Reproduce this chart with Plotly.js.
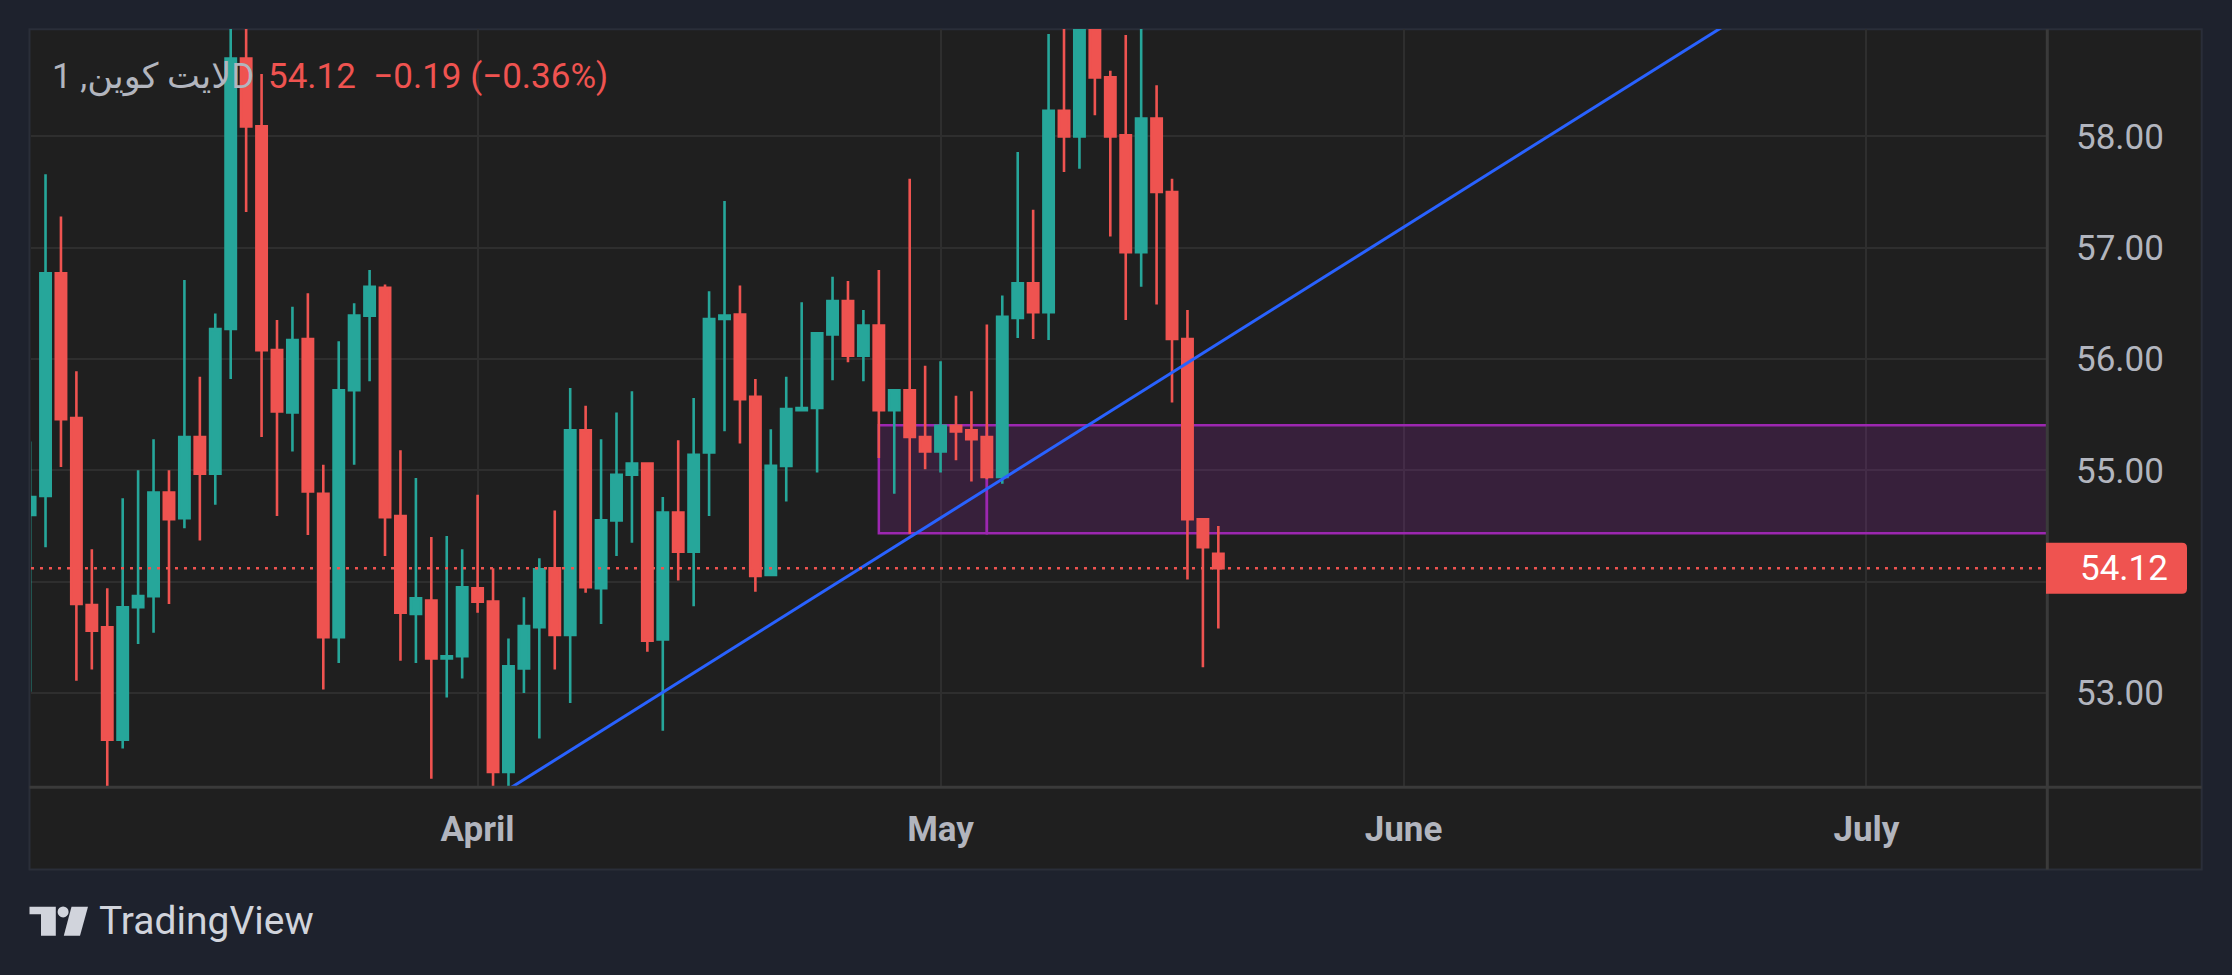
<!DOCTYPE html>
<html>
<head>
<meta charset="utf-8">
<script src="https://cdn.plot.ly/plotly-3.0.1.min.js"></script>
<style>
html,body{margin:0;padding:0;background:#1e222d;overflow:hidden}
#chart{width:2232px;height:975px}
</style>
</head>
<body>
<div id="chart"></div>
<script>
// ---- data (daily candles) ----
const dates = [
 '2024-03-03','2024-03-04','2024-03-05','2024-03-06','2024-03-07','2024-03-08','2024-03-09','2024-03-10',
 '2024-03-11','2024-03-12','2024-03-13','2024-03-14','2024-03-15','2024-03-16','2024-03-17','2024-03-18',
 '2024-03-19','2024-03-20','2024-03-21','2024-03-22','2024-03-23','2024-03-24','2024-03-25','2024-03-26',
 '2024-03-27','2024-03-28','2024-03-29','2024-03-30','2024-03-31','2024-04-01','2024-04-02','2024-04-03',
 '2024-04-04','2024-04-05','2024-04-06','2024-04-07','2024-04-08','2024-04-09','2024-04-10','2024-04-11',
 '2024-04-12','2024-04-13','2024-04-14','2024-04-15','2024-04-16','2024-04-17','2024-04-18','2024-04-19',
 '2024-04-20','2024-04-21','2024-04-22','2024-04-23','2024-04-24','2024-04-25','2024-04-26','2024-04-27',
 '2024-04-28','2024-04-29','2024-04-30','2024-05-01','2024-05-02','2024-05-03','2024-05-04','2024-05-05',
 '2024-05-06','2024-05-07','2024-05-08','2024-05-09','2024-05-10','2024-05-11','2024-05-12','2024-05-13',
 '2024-05-14','2024-05-15','2024-05-16','2024-05-17','2024-05-18','2024-05-19'
];
const opens = [
 54.60,54.77,56.77,55.47,53.79,53.59,52.58,53.77,53.87,54.80,54.57,55.30,54.97,56.27,58.70,58.09,
 56.08,55.52,56.18,54.79,53.50,55.72,56.39,56.64,54.59,53.71,53.83,53.31,53.33,53.94,53.82,52.29,
 53.22,53.59,54.12,53.52,55.36,53.94,54.55,54.96,55.06,53.48,54.62,54.27,55.16,56.36,56.40,55.66,
 54.06,55.04,55.54,55.56,56.22,56.52,56.03,56.30,55.54,55.72,55.30,55.17,55.40,55.36,55.30,54.94,
 56.37,56.68,56.42,58.23,58.00,59.25,58.53,58.01,56.96,58.16,57.50,56.18,54.56,54.25
];
const highs = [
 55.26,57.66,57.28,55.89,54.29,53.94,54.75,55.00,55.28,55.00,56.71,55.84,56.41,59.30,59.20,58.56,
 56.35,56.47,56.59,55.05,56.16,56.50,56.80,56.67,55.18,54.93,54.40,54.41,54.29,54.78,54.12,53.49,
 53.86,54.21,54.64,55.74,55.58,55.28,55.52,55.71,55.06,54.76,55.27,55.65,56.61,57.42,56.66,55.82,
 55.37,55.84,56.51,56.24,56.74,56.70,56.44,56.80,55.72,57.62,55.94,55.98,55.67,55.71,56.31,56.57,
 57.86,57.34,58.92,59.10,59.50,59.40,58.59,58.91,59.20,58.46,57.62,56.44,54.56,54.50
];
const lows = [
 53.01,54.31,55.03,53.11,53.21,52.16,52.50,53.44,53.54,53.80,54.48,54.37,54.69,55.82,57.32,55.30,
 54.59,55.17,54.42,53.03,53.27,55.05,55.80,54.23,53.29,53.27,52.23,52.96,53.13,53.72,52.12,52.14,
 53.00,52.59,53.21,52.91,53.90,53.62,54.23,54.35,53.37,52.66,54.01,53.78,54.59,55.35,55.24,53.91,
 54.05,54.72,55.53,54.98,55.81,55.97,55.80,55.11,54.79,54.43,55.01,54.98,55.09,54.90,54.92,54.88,
 56.19,56.18,56.17,57.68,57.71,58.19,57.10,56.35,56.65,56.49,55.61,54.02,53.23,53.58
];
const closes = [
 54.76,56.77,55.46,53.80,53.56,52.58,53.77,53.87,54.80,54.56,55.30,54.97,56.27,58.70,58.09,56.08,
 55.53,56.17,54.81,53.50,55.72,56.39,56.65,54.58,53.72,53.85,53.31,53.33,53.95,53.82,52.29,53.24,
 53.60,54.11,53.52,55.36,53.95,54.55,54.96,55.06,53.47,54.62,54.27,55.14,56.36,56.39,55.64,54.05,
 55.04,55.55,55.56,56.23,56.52,56.03,56.30,55.54,55.72,55.30,55.17,55.40,55.35,55.28,54.94,56.38,
 56.68,56.42,58.23,58.00,59.25,58.53,58.00,56.96,58.16,57.50,56.18,54.56,54.31,54.12
];

// axis ticks / labels
const priceTicks = [53, 54, 55, 56, 57, 58];
const priceTickLabels = ['53.00', '', '55.00', '56.00', '57.00', '58.00'];
const monthTickDates = ['2024-04-01', '2024-05-01', '2024-05-31', '2024-06-30'];
const monthTickLabels = ['April', 'May', 'June', 'July'];

// drawings on the chart
const trendDates = ['2024-04-03', '2024-06-21'];
const trendPrices = [52.135, 59.012];
const zoneStarts = ['2024-04-27', '2024-05-04'];
const zoneEnd = '2024-09-30';
const zoneTop = 55.405;
const zoneBottom = 54.435;

// header texts
const symbolLabel = 'لايت كوين, 1D';
const quoteLabel = '54.12\u00a0\u00a0\u22120.19 (\u22120.36%)';
const brandLabel = 'TradingView';

const lastClose = closes[closes.length - 1];

// ---- layout helpers (page pixels -> paper fractions) ----
const W = 2232, H = 975;
const M = {l: 31, r: 185, t: 29, b: 188};
const PW = W - M.l - M.r, PH = H - M.t - M.b;
const px = x => (x - M.l) / PW;
const py = y => (H - M.b - y) / PH;
const pathOf = pts => pts.map((p, i) => (i ? 'L' : 'M') + px(p[0]) + ',' + py(p[1])).join(' ') + ' Z';

const GREEN = '#26a69a', RED = '#ef5350';
const FONT = 'Roboto, "DejaVu Sans", sans-serif';

const candles = {
  type: 'candlestick',
  x: dates, open: opens, high: highs, low: lows, close: closes,
  increasing: {line: {color: GREEN, width: 2.6}, fillcolor: GREEN},
  decreasing: {line: {color: RED, width: 2.6}, fillcolor: RED},
  whiskerwidth: 0,
  hoverinfo: 'skip',
  showlegend: false
};
const trend = {
  type: 'scatter', mode: 'lines',
  x: trendDates, y: trendPrices,
  line: {color: '#2962ff', width: 3},
  hoverinfo: 'skip', showlegend: false
};

const shapes = [
  // chart block
  {type: 'rect', xref: 'paper', yref: 'paper', layer: 'below',
   x0: px(29.5), x1: px(2201.7), y0: py(869.4), y1: py(29.2),
   fillcolor: '#1f1f1f', line: {color: '#2a2e39', width: 2}},
];
zoneStarts.forEach((s, i) => {
  shapes.push({type: 'rect', xref: 'x', yref: 'y', layer: 'between',
    x0: s, x1: i + 1 < zoneStarts.length ? zoneStarts[i + 1] : zoneEnd,
    y0: zoneBottom, y1: zoneTop,
    fillcolor: 'rgba(156,39,176,0.2)', line: {color: '#9c27b0', width: 2.5}});
});
shapes.push(
  // last price line
  {type: 'line', xref: 'paper', yref: 'y', layer: 'above', x0: 0, x1: 1, y0: lastClose, y1: lastClose,
   line: {color: RED, width: 2.5, dash: '3px,6px'}},
  // separators
  {type: 'line', xref: 'paper', yref: 'paper', layer: 'above',
   x0: px(2047.3), x1: px(2047.3), y0: py(869.4), y1: py(29.2), line: {color: '#3a3a3a', width: 3}},
  {type: 'line', xref: 'paper', yref: 'paper', layer: 'above',
   x0: px(29.5), x1: px(2201.7), y0: py(787.3), y1: py(787.3), line: {color: '#3a3a3a', width: 3}},
  // last price badge
  {type: 'path', xref: 'paper', yref: 'y', layer: 'above',
   xsizemode: 'pixel', xanchor: 1, ysizemode: 'pixel', yanchor: lastClose,
   path: 'M -1,-25.5 L 135,-25.5 Q 140,-25.5 140,-20.5 L 140,20.5 Q 140,25.5 135,25.5 L -1,25.5 Z',
   fillcolor: RED, line: {width: 0}},
  // TradingView logo
  {type: 'path', xref: 'paper', yref: 'paper', layer: 'above',
   path: pathOf([[29.5, 906.7], [55.8, 906.7], [55.8, 935.7], [41, 935.7], [41, 914.2], [29.5, 914.2]]),
   fillcolor: '#d1d4dc', line: {width: 0}},
  {type: 'circle', xref: 'paper', yref: 'paper', layer: 'above',
   x0: px(57.6), x1: px(68.6), y0: py(917.4), y1: py(906.4),
   fillcolor: '#d1d4dc', line: {width: 0}},
  {type: 'path', xref: 'paper', yref: 'paper', layer: 'above',
   path: pathOf([[71.5, 906.7], [88, 906.7], [80, 935.7], [63.8, 935.7]]),
   fillcolor: '#d1d4dc', line: {width: 0}}
);

const annotations = [
  {xref: 'paper', yref: 'paper', x: px(50), y: py(76.7), xanchor: 'left', yanchor: 'middle',
   text: symbolLabel, showarrow: false, font: {family: FONT, size: 35, color: '#b2b5be'}},
  {xref: 'paper', yref: 'paper', x: px(266), y: py(76.7), xanchor: 'left', yanchor: 'middle',
   text: quoteLabel, showarrow: false, font: {family: FONT, size: 35, color: RED}},
  {xref: 'paper', yref: 'y', x: px(2078), y: lastClose, xanchor: 'left', yanchor: 'middle',
   text: lastClose.toFixed(2), showarrow: false, font: {family: FONT, size: 35, color: '#ffffff'}},
  {xref: 'paper', yref: 'paper', x: px(97), y: py(921), xanchor: 'left', yanchor: 'middle',
   text: brandLabel, showarrow: false, font: {family: FONT, size: 39, color: '#d1d4dc'}}
];

const layout = {
  width: W, height: H,
  margin: M,
  paper_bgcolor: '#1e222d',
  plot_bgcolor: '#1f1f1f',
  showlegend: false,
  hovermode: false,
  boxgap: 0.33, boxgroupgap: 0,
  xaxis: {
    type: 'date',
    range: ['2024-03-03 01:24', '2024-07-11 16:48'],
    rangeslider: {visible: false},
    tickmode: 'array', tickvals: monthTickDates, ticktext: monthTickLabels,
    ticks: '', ticklabelstandoff: 18,
    tickfont: {family: FONT, size: 35, color: '#b2b5be', weight: 'bold'},
    showgrid: true, gridcolor: '#2e2e2e', gridwidth: 2,
    zeroline: false, showline: false, fixedrange: true
  },
  yaxis: {
    side: 'right',
    range: [52.155, 58.965],
    tickmode: 'array', tickvals: priceTicks, ticktext: priceTickLabels,
    ticks: '', ticklabelstandoff: 28,
    tickfont: {family: FONT, size: 35, color: '#b2b5be'},
    showgrid: true, gridcolor: '#2e2e2e', gridwidth: 2,
    zeroline: false, showline: false, fixedrange: true
  },
  shapes: shapes,
  annotations: annotations
};

Plotly.newPlot('chart', [candles, trend], layout, {displayModeBar: false, staticPlot: true, responsive: false});
</script>
</body>
</html>
